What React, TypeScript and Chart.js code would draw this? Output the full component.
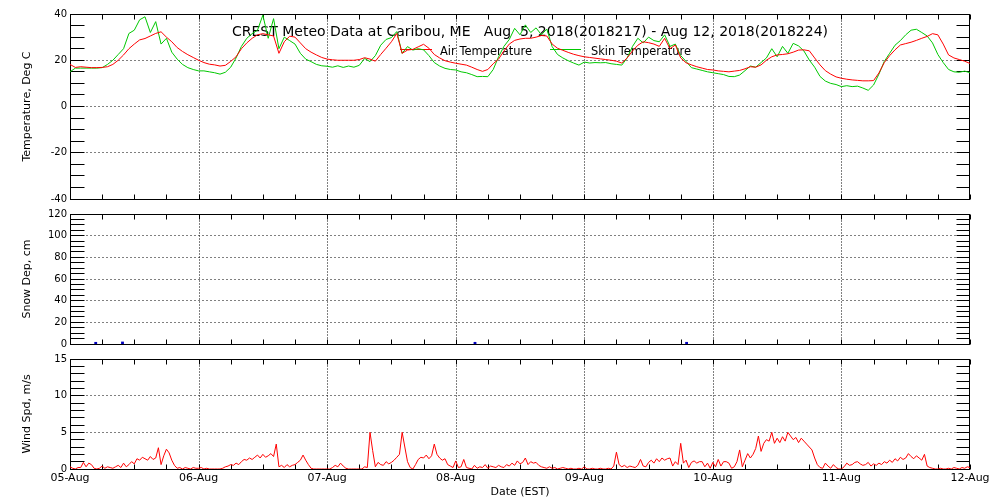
import React, { useEffect, useRef } from 'react';
import { Chart, registerables } from 'chart.js';
Chart.register(...registerables);

const FONT = "'DejaVu Sans', sans-serif";

const dayLabels = ['05-Aug', '06-Aug', '07-Aug', '08-Aug', '09-Aug', '10-Aug', '11-Aug', '12-Aug'];

const titleText = 'CREST Meteo Data at Caribou, ME   Aug  5, 2018(2018217) - Aug 12, 2018(2018224)';
const seriesNames = ['Air Temperature', 'Skin Temperature'];

// hourly, 05-Aug 00:00 .. 12-Aug 00:00
const airTemp = [
  18.2, 16.9, 17.2, 17.0, 16.8, 16.8, 16.9, 17.2, 18.2, 20.0, 22.3, 25.0, 27.0, 28.8, 29.4, 30.5, 31.6, 32.3, 30.0, 28.0, 25.5, 23.8, 22.4, 21.2,
  20.0, 19.0, 18.3, 18.0, 17.5, 17.8, 19.5, 21.5, 25.0, 27.5, 29.5, 31.0, 31.5, 31.0, 30.5, 23.0, 28.0, 30.4, 30.0, 27.5, 25.0, 23.5, 22.3, 21.2,
  20.5, 20.2, 20.0, 20.0, 20.0, 20.0, 20.3, 21.1, 20.5, 19.6, 22.5, 25.2, 28.0, 31.6, 23.0, 24.4, 24.7, 25.8, 26.9, 25.2, 22.5, 21.0, 19.8, 19.2,
  18.7, 18.3, 17.9, 17.0, 16.0, 15.2, 16.0, 18.5, 20.5, 24.0, 27.0, 28.6, 29.2, 29.5, 29.5, 30.0, 30.7, 30.5, 27.0, 25.2, 24.3, 23.4, 22.6, 22.0,
  21.5, 21.2, 20.9, 20.6, 20.3, 20.0, 19.6, 18.8, 21.0, 24.0, 26.5, 28.0, 27.6, 27.0, 26.0, 29.5, 25.0, 26.6, 21.0, 18.9, 18.0, 17.2, 16.6, 16.0,
  15.8, 15.4, 15.2, 15.0, 15.3, 15.6, 16.3, 17.2, 17.0, 18.0, 20.0, 21.5, 22.3, 22.5, 22.8, 23.5, 24.4, 24.5, 24.1, 21.0, 18.0, 15.5, 14.0, 12.8,
  12.2, 11.8, 11.5, 11.3, 11.1, 11.1, 11.2, 14.5, 19.0, 22.0, 24.5, 26.6, 27.2, 27.8, 28.6, 29.5, 30.3, 31.5, 31.0, 27.0, 22.3, 21.0, 20.3, 19.6,
  18.6,
];

const skinTemp = [
  15.0, 16.6, 16.6, 16.6, 16.6, 16.6, 16.8, 18.2, 20.0, 22.5, 25.0, 31.6, 33.0, 37.5, 38.8, 32.0, 36.7, 27.0, 29.5, 23.5, 20.5, 18.2, 16.8, 16.0,
  15.4, 15.4, 15.0, 14.6, 14.0, 14.8, 17.0, 21.0, 26.0, 29.5, 31.5, 33.0, 39.5, 29.5, 38.0, 25.0, 30.0, 28.5, 27.0, 23.0, 20.5, 19.4, 18.2, 17.6,
  17.4, 17.0, 17.6, 16.9, 17.5, 17.0, 17.8, 20.8, 19.4, 22.0, 26.5, 29.0, 29.8, 32.4, 23.0, 25.9, 24.4, 25.0, 24.5, 22.0, 19.0, 17.5, 16.5, 16.0,
  15.8, 15.0, 14.6, 13.8, 12.9, 13.0, 12.9, 16.0, 21.5, 26.0, 29.0, 33.8, 31.0, 35.3, 32.0, 34.0, 31.0, 33.5, 25.9, 22.5, 21.0, 19.8, 18.8, 17.9,
  19.2, 18.8, 19.0, 18.9, 19.0, 18.5, 18.2, 17.9, 21.0, 26.0, 29.5, 27.5, 30.0, 28.5, 28.0, 31.0, 26.0, 27.0, 22.0, 19.5, 16.8, 16.2, 15.6, 15.0,
  14.6, 14.2, 13.8, 13.0, 12.9, 13.6, 15.5, 17.5, 17.0, 19.0, 21.0, 25.0, 21.5, 26.0, 23.0, 27.3, 26.2, 24.0, 20.1, 17.0, 13.0, 11.0, 10.0, 9.5,
  8.6, 9.0, 8.6, 8.8, 8.0, 7.0, 9.3, 14.0, 19.5, 23.0, 26.5, 28.5, 31.0, 33.0, 33.4, 32.0, 30.5, 27.5, 22.5, 19.0, 16.0, 15.0, 14.8, 15.3,
  14.6,
];

// half-hourly wind speed
const windSpeed = [
  0.3, 0.1, 0.0, 0.2, 0.2, 0.9, 0.3, 0.8, 0.6, 0.1, 0.0, 0.1, 0.4, 0.1, 0.3, 0.2, 0.1, 0.3, 0.5, 0.2, 0.8, 0.3, 0.6, 1.0,
  0.7, 1.4, 1.2, 1.6, 1.4, 1.2, 1.7, 1.3, 1.5, 2.9, 0.6, 1.8, 2.7, 2.2, 1.2, 0.5, 0.1, 0.2, 0.0, 0.2, 0.1, 0.0, 0.2, 0.1,
  0.1, 0.2, 0.0, 0.1, 0.0, 0.0, 0.0, 0.0, 0.0, 0.1, 0.3, 0.4, 0.6, 0.5, 0.8, 0.6, 1.0, 1.3, 1.2, 1.5, 1.3, 1.6, 1.9, 1.5,
  2.0, 1.6, 1.8, 2.1, 1.7, 3.4, 0.3, 0.5, 0.2, 0.6, 0.3, 0.5, 0.6, 0.9, 1.2, 1.9, 1.2, 0.6, 0.1, 0.0, 0.0, 0.0, 0.0, 0.0,
  0.0, 0.0, 0.2, 0.5, 0.3, 0.8, 0.4, 0.1, 0.0, 0.0, 0.0, 0.0, 0.0, 0.0, 0.3, 0.2, 5.0, 2.5, 0.3, 0.9, 0.6, 0.5, 1.0, 0.7,
  0.9, 1.2, 1.6, 2.0, 5.0, 3.0, 1.0, 0.2, 0.0, 0.6, 1.3, 1.6, 1.5, 1.9, 1.4, 1.8, 3.4, 2.0, 1.5, 1.2, 1.4, 0.6, 0.4, 0.2,
  1.1, 0.2, 0.3, 1.3, 0.2, 0.1, 0.0, 0.5, 0.1, 0.3, 0.2, 0.6, 0.1, 0.4, 0.3, 0.2, 0.5, 0.3, 0.2, 0.6, 0.4, 0.8, 0.5, 1.1,
  0.7, 0.9, 1.5, 0.6, 1.0, 0.8, 0.9, 0.5, 0.3, 0.2, 0.1, 0.3, 0.1, 0.2, 0.0, 0.1, 0.2, 0.1, 0.0, 0.1, 0.0, 0.0, 0.1, 0.0,
  0.3, 0.0, 0.0, 0.1, 0.0, 0.0, 0.1, 0.0, 0.0, 0.1, 0.0, 0.4, 2.3, 0.6, 0.3, 0.5, 0.2, 0.4, 0.3, 0.2, 0.5, 1.3, 0.4, 0.3,
  0.9, 1.2, 0.8, 1.4, 1.0, 1.5, 1.2, 1.4, 1.5, 0.4, 1.0, 0.6, 3.5, 0.8, 1.2, 0.2, 0.9, 1.1, 0.8, 1.0, 1.0, 0.3, 0.8, 0.1,
  0.9, 0.3, 1.3, 0.4, 1.0, 1.0, 0.8, 0.1, 0.3, 1.0, 2.6, 0.3, 1.2, 2.1, 1.5, 2.0, 2.8, 4.5, 2.4, 3.5, 4.0, 3.8, 5.0, 3.5,
  4.2, 3.6, 4.4, 3.8, 5.0, 4.5, 4.0, 4.3, 3.6, 4.2, 3.8, 3.4, 3.0, 2.6, 1.5, 0.6, 0.2, 0.1, 0.8, 0.4, 0.1, 0.6, 0.2, 0.0,
  0.0, 0.3, 0.8, 0.5, 0.6, 0.9, 1.0, 0.7, 0.5, 0.6, 0.9, 0.4, 0.7, 0.5, 0.8, 0.6, 1.0, 0.8, 1.2, 0.9, 1.4, 1.1, 1.6, 1.3,
  1.5, 2.1, 1.7, 1.4, 1.8, 1.5, 1.2, 2.0, 0.4, 0.2, 0.1, 0.0, 0.0, 0.1, 0.0, 0.0, 0.1, 0.0, 0.2, 0.1, 0.0, 0.2, 0.1, 0.3,
  0.2,
];

// snow depth readings (hour since 05-Aug 00:00, cm)
const snowHours = [4.8, 9.8, 75.6, 115.1];
const snowDepth = [0.6, 0.9, 0.6, 0.6];

const framePlugin = {
  id: 'frame',
  beforeDatasetsDraw(chart: any, _a: any, opts: any) {
    const { ctx, chartArea: a } = chart;
    const xs = chart.scales.x;
    const ys = chart.scales.y;
    const L = Math.round(a.left) + 0.5;
    const R = Math.round(a.right) - 0.5;
    const T = Math.floor(a.top) + 0.5;
    const B = Math.floor(a.bottom) + 0.5;
    const seg = (x1: number, y1: number, x2: number, y2: number) => {
      ctx.beginPath();
      ctx.moveTo(x1, y1);
      ctx.lineTo(x2, y2);
      ctx.stroke();
    };
    const py = (v: number) => Math.floor(ys.getPixelForValue(v)) + 0.5;
    const px = (v: number) => Math.round(xs.getPixelForValue(v)) + 0.5;
    ctx.save();
    ctx.strokeStyle = '#000';
    ctx.lineWidth = 1;
    ctx.setLineDash([1, 3]);
    for (let v = ys.min + opts.yMajor; v < ys.max - 1e-6; v += opts.yMajor) {
      seg(L, py(v), R, py(v));
    }
    ctx.setLineDash([1, 2]);
    for (let v = xs.min + opts.xMajor; v < xs.max - 1e-6; v += opts.xMajor) {
      seg(px(v), T, px(v), B);
    }
    ctx.setLineDash([]);
    for (let v = ys.min; v <= ys.max + 1e-6; v += opts.yMinor) {
      const y = py(v);
      seg(L, y, L + 14, y);
      seg(R - 13, y, R, y);
    }
    for (let v = xs.min; v <= xs.max + 1e-6; v += opts.xMinor) {
      const x = px(v);
      seg(x, T, x, T + 5);
      seg(x, B - 5, x, B);
    }
    ctx.strokeRect(L, T, R - L, B - T);
    ctx.restore();
  },
};

const headerPlugin = {
  id: 'header',
  beforeDatasetsDraw(chart: any) {
    const { ctx } = chart;
    ctx.save();
    ctx.fillStyle = '#000';
    ctx.textBaseline = 'alphabetic';
    ctx.textAlign = 'left';
    ctx.font = `14px ${FONT}`;
    ctx.fillText(titleText, 232, 35.5, 596);
    ctx.font = `12px ${FONT}`;
    ctx.fillText(seriesNames[0], 440, 54.5, 92);
    ctx.fillText(seriesNames[1], 591, 54.5, 100);
    ctx.lineWidth = 1;
    ctx.strokeStyle = '#ff0000';
    ctx.beginPath();
    ctx.moveTo(400, 49.5);
    ctx.lineTo(432, 49.5);
    ctx.stroke();
    ctx.strokeStyle = '#00c800';
    ctx.beginPath();
    ctx.moveTo(550, 49.5);
    ctx.lineTo(581, 49.5);
    ctx.stroke();
    ctx.restore();
  },
};

function yScale(min: number, max: number, step: number, title: string) {
  return {
    type: 'linear',
    min,
    max,
    afterFit: (s: any) => {
      s.width = 70;
    },
    grid: { display: false, drawTicks: false },
    border: { display: false },
    ticks: { stepSize: step, color: '#000', padding: 3, font: { family: FONT, size: 10 } },
    title: {
      display: true,
      text: title,
      color: '#000',
      font: { family: FONT, size: 11 },
      padding: { top: 21, bottom: 0 },
    },
  };
}

function xScale(show: boolean) {
  const base: any = {
    type: 'linear',
    min: 0,
    max: 168,
    display: show,
    grid: { display: false, drawTicks: false },
    border: { display: false },
    ticks: {
      stepSize: 24,
      autoSkip: false,
      maxRotation: 0,
      padding: 3,
      color: '#000',
      font: { family: FONT, size: 11 },
      callback: (v: any) => dayLabels[Math.round(Number(v) / 24)] ?? '',
    },
    title: {
      display: show,
      text: 'Date (EST)',
      color: '#000',
      font: { family: FONT, size: 11 },
      padding: { top: 0, bottom: 1.4 },
    },
  };
  if (show) {
    base.afterFit = (s: any) => {
      s.height = 31;
    };
  }
  return base;
}

function baseOptions(showX: boolean, yOpts: any, frame: any) {
  return {
    responsive: false,
    animation: false,
    devicePixelRatio: 1,
    layout: { padding: { left: 0, right: 30, top: 14, bottom: showX ? 0 : 11 } },
    plugins: { legend: { display: false }, tooltip: { enabled: false }, title: { display: false }, frame },
    elements: { point: { radius: 0 }, line: { borderWidth: 1, tension: 0 } },
    scales: { x: xScale(showX), y: yOpts },
  };
}

const toXY = (arr: number[], step: number) => arr.map((v, i) => ({ x: i * step, y: v }));

export default function App() {
  const r1 = useRef<HTMLCanvasElement>(null);
  const r2 = useRef<HTMLCanvasElement>(null);
  const r3 = useRef<HTMLCanvasElement>(null);

  useEffect(() => {
    const c1 = new Chart(r1.current as HTMLCanvasElement, {
      type: 'line',
      data: {
        datasets: [
          { label: seriesNames[0], data: toXY(airTemp, 1), borderColor: '#ff0000', borderWidth: 1, pointRadius: 0 },
          { label: seriesNames[1], data: toXY(skinTemp, 1), borderColor: '#00c800', borderWidth: 1, pointRadius: 0 },
        ],
      },
      options: baseOptions(false, yScale(-40, 40, 20, 'Temperature, Deg C'), { xMajor: 24, xMinor: 6, yMajor: 20, yMinor: 5 }) as any,
      plugins: [framePlugin, headerPlugin],
    });
    const c2 = new Chart(r2.current as HTMLCanvasElement, {
      type: 'line',
      data: {
        datasets: [
          {
            label: 'Snow Depth',
            data: snowHours.map((h, i) => ({ x: h, y: snowDepth[i] })),
            showLine: false,
            pointRadius: 2,
            pointStyle: 'rect',
            backgroundColor: 'rgb(0,0,190)',
            borderColor: 'rgb(0,0,190)',
            borderWidth: 0,
          },
        ],
      },
      options: baseOptions(false, yScale(0, 120, 20, 'Snow Dep, cm'), { xMajor: 24, xMinor: 6, yMajor: 20, yMinor: 5 }) as any,
      plugins: [framePlugin],
    });
    const c3 = new Chart(r3.current as HTMLCanvasElement, {
      type: 'line',
      data: {
        datasets: [
          { label: 'Wind Speed', data: toXY(windSpeed, 0.5), borderColor: '#ff0000', borderWidth: 1, pointRadius: 0 },
        ],
      },
      options: baseOptions(true, yScale(0, 15, 5, 'Wind Spd, m/s'), { xMajor: 24, xMinor: 6, yMajor: 5, yMinor: 1 }) as any,
      plugins: [framePlugin],
    });
    return () => {
      c1.destroy();
      c2.destroy();
      c3.destroy();
    };
  }, []);

  return (
    <div style={{ position: 'absolute', left: 0, top: 0, width: 1000, height: 500, background: '#fff', overflow: 'hidden' }}>
      <canvas ref={r1} width={1000} height={210} style={{ position: 'absolute', left: 0, top: 0, width: 1000, height: 210 }} />
      <canvas ref={r2} width={1000} height={155} style={{ position: 'absolute', left: 0, top: 200, width: 1000, height: 155 }} />
      <canvas ref={r3} width={1000} height={155} style={{ position: 'absolute', left: 0, top: 345, width: 1000, height: 155 }} />
    </div>
  );
}
